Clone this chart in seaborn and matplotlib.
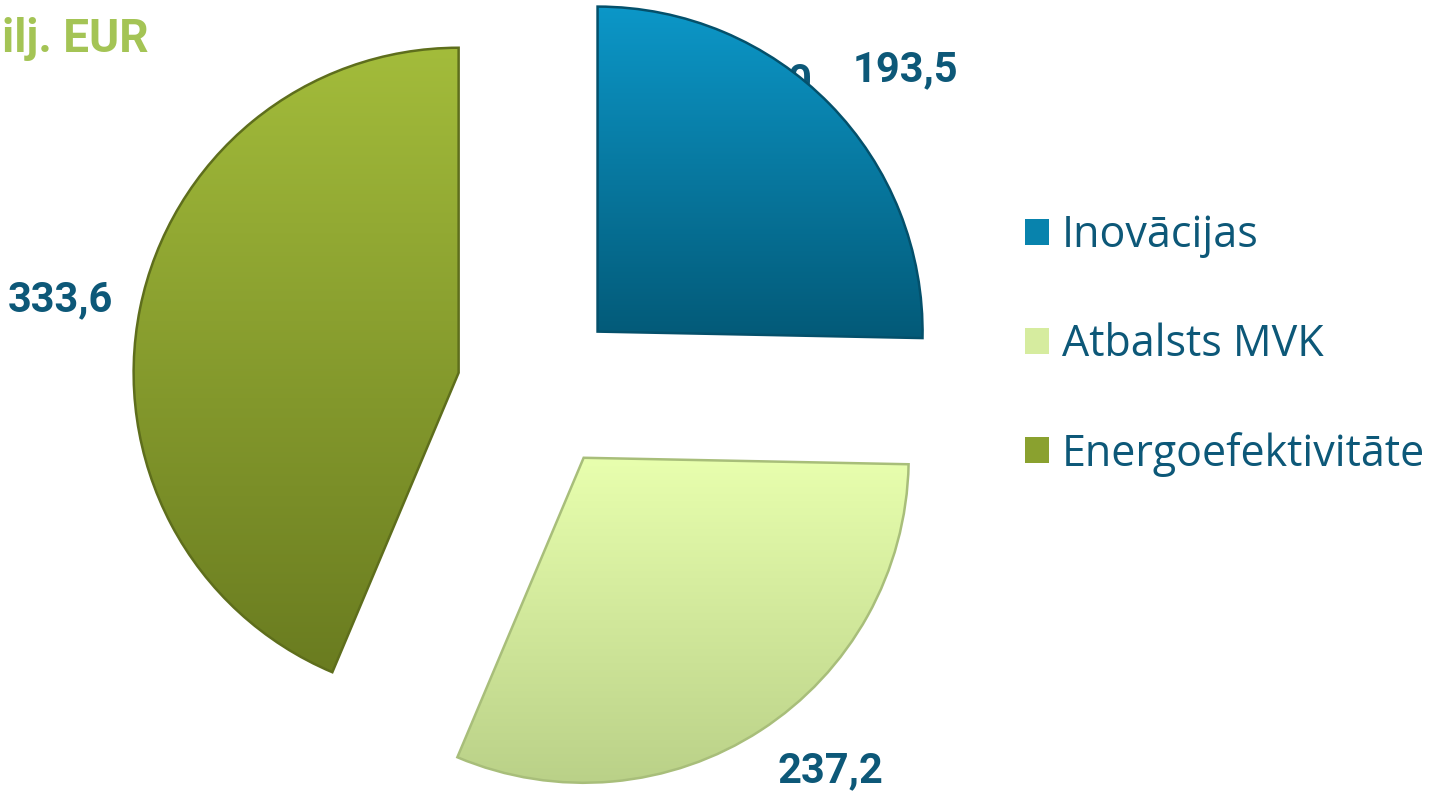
import numpy as np
import matplotlib
matplotlib.use("Agg")
import matplotlib.pyplot as plt
from matplotlib.colors import LinearSegmentedColormap
from matplotlib.patches import Wedge
import seaborn as sns

# data (milj. EUR)
categories = ["Inovācijas", "Atbalsts MVK", "Energoefektivitāte"]
values = [193.5, 237.2, 333.6]
title_text = "ilj. EUR"  # only this part of the title is visible in the reference

# slice colours: flat (legend), gradient top / bottom, outline
colors = ["#0883AD", "#D6EC9F", "#8AA12F"]
top_colors = ["#0C97C8", "#E8FFAE", "#A3BC3B"]
bottom_colors = ["#035A78", "#BAD188", "#6A7C20"]
edge_colors = ["#04506B", "#A8BE7A", "#5E6E1C"]
text_color = "#0D5878"
title_color = "#A4C455"

sns.set_theme(style="white")
plt.rcParams['font.family'] = ['Open Sans', 'DejaVu Sans']

fig = plt.figure(figsize=(14.43, 7.92), dpi=100)
ax = fig.add_axes([0, 0, 1, 1])

# pie laid out in pixel units of the figure
wedges, _ = ax.pie(values, colors=colors, startangle=90, counterclock=False,
                   center=(539, 403), radius=325, explode=[82] * len(values),
                   wedgeprops=dict(edgecolor="none"))

# vertical gradient fill clipped to every slice + a darker outline
for w, top, bottom, ec in zip(wedges, top_colors, bottom_colors, edge_colors):
    bb = w.get_path().get_extents()
    cmap = LinearSegmentedColormap.from_list("g", [top, bottom])
    grad = np.linspace(0, 1, 256).reshape(-1, 1)
    im = ax.imshow(grad, cmap=cmap, extent=(bb.x0, bb.x1, bb.y0, bb.y1),
                   aspect='auto', zorder=1.5)
    im.set_clip_path(w)
    ax.add_patch(Wedge(w.center, w.r, w.theta1, w.theta2, fill=False,
                       edgecolor=ec, linewidth=1.8, zorder=2))

# value labels, comma as decimal separator
label_xy = [(905, 722), (830, 21), (60, 492)]
for v, (x, y) in zip(values, label_xy):
    ax.text(x, y, f"{v:.1f}".replace(".", ","), ha='center', va='center',
            fontsize=30, fontweight='bold', color=text_color, family=['Roboto'])

# label hidden behind the blue slice
ax.text(812, 710, "0", ha='right', va='center', fontsize=30,
        fontweight='bold', color=text_color, family=['Roboto'], zorder=0.5)

# title fragment at the top left
ax.text(2, 740, title_text, ha='left', va='baseline', fontsize=33,
        fontweight='bold', color=title_color, family=['Roboto'])

ax.legend(wedges, categories, loc='center left',
          bbox_to_anchor=(1025 / 1443, 1 - 345 / 792), frameon=False,
          fontsize=31, labelcolor=text_color, handlelength=0.55,
          handleheight=0.55, handletextpad=0.3, labelspacing=1.5,
          borderpad=0, borderaxespad=0)

ax.set_xlim(0, 1443)
ax.set_ylim(0, 792)
ax.set_aspect('equal')
ax.axis('off')

fig.savefig("out.png", dpi=100)
